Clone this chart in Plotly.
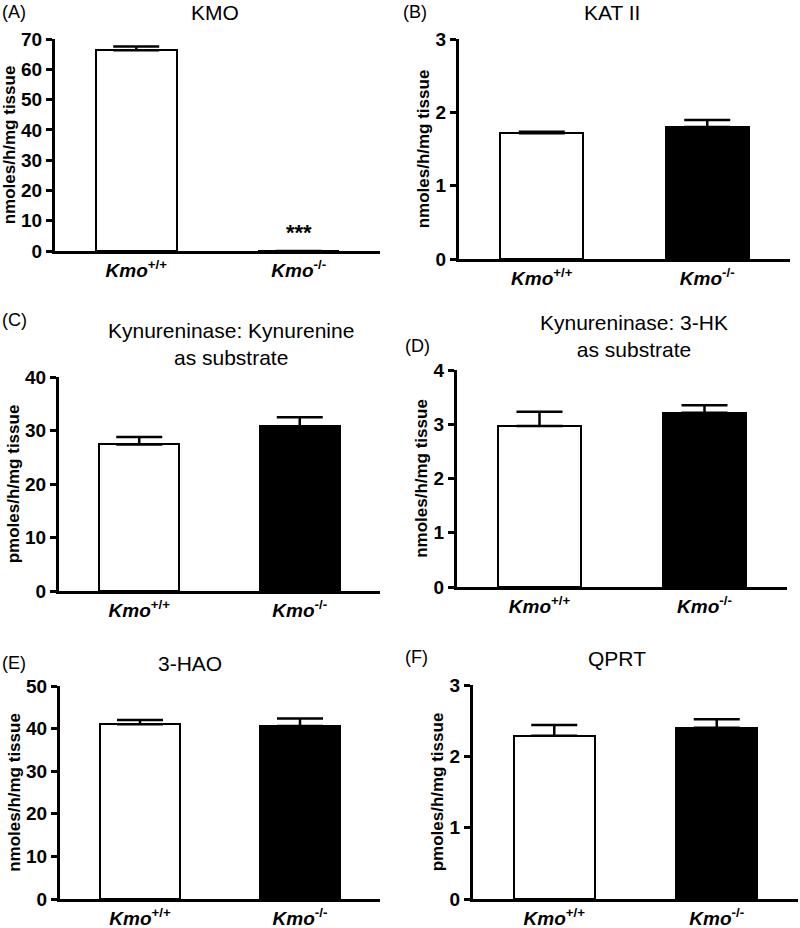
import plotly.graph_objects as go

W, H = 800, 928

groups = ["Kmo+/+", "Kmo-/-"]
tick_text = ["<b><i>Kmo</i></b><sup><b>+/+</b></sup>", "<b><i>Kmo</i></b><sup><b>-/-</b></sup>"]

panel_labels = ["(A)", "(B)", "(C)", "(D)", "(E)", "(F)"]
titles = ["KMO", "KAT II", "Kynureninase: Kynurenine<br>as substrate",
          "Kynureninase: 3-HK<br>as substrate", "3-HAO", "QPRT"]
ytitles = ["nmoles/h/mg tissue", "nmoles/h/mg tissue", "pmoles/h/mg tissue",
           "nmoles/h/mg tissue", "nmoles/h/mg tissue", "pmoles/h/mg tissue"]

means = [
    [66.3, 0.0],
    [1.715, 1.80],
    [27.4, 30.8],
    [2.97, 3.21],
    [41.0, 40.6],
    [2.29, 2.40],
]
sems = [
    [1.2, 0.0],
    [0.02, 0.095],
    [1.4, 1.7],
    [0.26, 0.14],
    [1.0, 1.8],
    [0.15, 0.12],
]
ymax = [70, 3, 40, 4, 50, 3]
ydtick = [10, 1, 10, 1, 10, 1]
significance = ["***", "", "", "", "", ""]

# pixel layout (left, right, bottom(zero), top)
boxes = [
    (55, 380, 251, 39),
    (459, 790, 259, 39),
    (59, 380, 591, 377),
    (457, 787, 587, 370),
    (60, 380, 899, 686),
    (473, 798, 899, 685),
]
title_pos = [(215, 12), (612, 12), (231, 344), (634, 336), (190, 663), (617, 658)]
label_pos = [(0, 12), (401, 12), (0, 320), (403, 346), (0, 663), (403, 657)]

def px(x):
    return x / W

def py(y):
    return 1 - y / H

fig = go.Figure()
FONT = "Liberation Sans, Arial, sans-serif"

for i in range(6):
    n = i + 1
    xa = "x" if n == 1 else f"x{n}"
    ya = "y" if n == 1 else f"y{n}"
    l, r, b, t = boxes[i]
    fig.add_trace(go.Bar(
        x=[0, 1], y=means[i],
        width=0.5,
        marker=dict(color=["white", "black"], line=dict(color="black", width=2)),
        error_y=dict(type="data", symmetric=False, array=sems[i], arrayminus=[0, 0],
                     color="black", thickness=2.5, width=23,
                     visible=True),
        xaxis=xa, yaxis=ya, showlegend=False, cliponaxis=False,
    ))
    xkey = "xaxis" if n == 1 else f"xaxis{n}"
    ykey = "yaxis" if n == 1 else f"yaxis{n}"
    fig.layout[xkey] = dict(
        domain=[px(l), px(r)], anchor=ya, range=[-0.5, 1.5], automargin=False,
        tickvals=[0, 1], ticktext=tick_text, showline=True, linecolor="black",
        linewidth=3, ticks="", showgrid=False, zeroline=False, fixedrange=True,
        tickfont=dict(family=FONT, size=19, color="black"),
    )
    fig.layout[ykey] = dict(
        domain=[py(b), py(t)], anchor=xa, range=[0, ymax[i]], dtick=ydtick[i],
        tick0=0, showline=True, linecolor="black", linewidth=3, ticks="outside",
        ticklen=6, tickwidth=3, tickcolor="black", showgrid=False, zeroline=False,
        automargin=False,
        tickfont=dict(family=FONT, size=19, color="black", weight="bold"),
        title=dict(text=ytitles[i], font=dict(family=FONT, size=17, color="black", weight="bold"),
                   standoff=2),
    )
    tx, ty = title_pos[i]
    fig.add_annotation(x=px(tx), y=py(ty), xref="paper", yref="paper", text=titles[i],
                       showarrow=False, xanchor="center", yanchor="middle",
                       font=dict(family=FONT, size=21, color="black"))
    lx, ly = label_pos[i]
    fig.add_annotation(x=px(lx), y=py(ly), xref="paper", yref="paper", text=panel_labels[i],
                       showarrow=False, xanchor="left", yanchor="middle",
                       font=dict(family=FONT, size=18, color="black"))
    if significance[i]:
        fig.add_annotation(x=1, y=0, xref=xa, yref=ya, text="<b>" + significance[i] + "</b>",
                           showarrow=False, yanchor="bottom", yshift=4,
                           font=dict(family=FONT, size=22, color="black"))

fig.update_layout(
    width=W, height=H, margin=dict(l=0, r=0, t=0, b=0, autoexpand=False),
    paper_bgcolor="white", plot_bgcolor="white", bargap=0,
)

fig.write_html("out.html", config={"displayModeBar": False},
               post_script="document.body.style.margin='0';document.body.style.overflow='hidden';")
